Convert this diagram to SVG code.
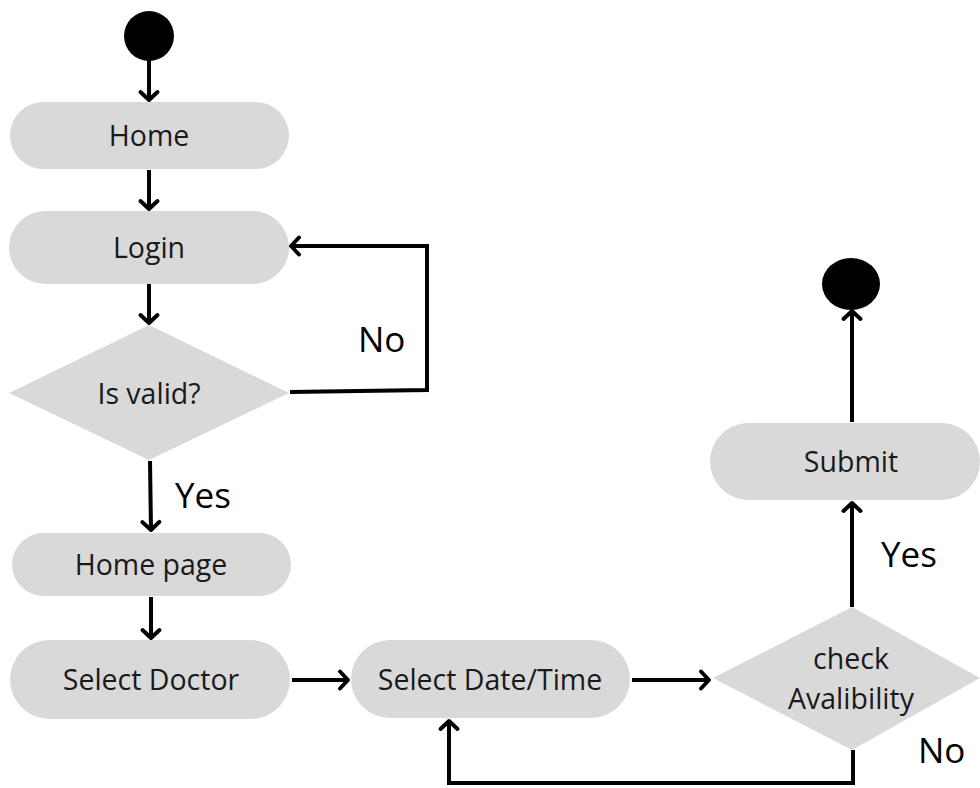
<svg xmlns="http://www.w3.org/2000/svg" width="980" height="788" viewBox="0 0 980 788">
<defs>
<style>
.box{fill:#d9d9d9}
.t{font-family:"Open Sans","Noto Sans",sans-serif;font-size:28.5px;fill:#1a1a1a;text-anchor:middle;dominant-baseline:central}
.lbl{font-family:"Open Sans","Noto Sans",sans-serif;font-size:35px;fill:#000;dominant-baseline:central}
.c{fill:none;stroke:#000;stroke-width:4;marker-end:url(#ah)}
</style>
<marker id="ah" viewBox="0 0 20 20" refX="11" refY="10" markerWidth="20" markerHeight="20" markerUnits="userSpaceOnUse" orient="auto" overflow="visible">
<path d="M3,1.5 L11,10 L3,18.5" fill="none" stroke="#000" stroke-width="4" stroke-linecap="round" stroke-linejoin="round"/>
</marker>
</defs>
<g id="connectors">
<line class="c" x1="149" y1="58" x2="149" y2="100"/>
<line class="c" x1="149" y1="170" x2="149" y2="209"/>
<line class="c" x1="149" y1="284" x2="149" y2="323"/>
<polyline class="c" points="290,392 427,390 427,246 291,246"/>
<line class="c" x1="150" y1="461" x2="151" y2="530"/>
<line class="c" x1="151" y1="597" x2="151" y2="638"/>
<line class="c" x1="292" y1="680" x2="348" y2="680"/>
<line class="c" x1="632" y1="680" x2="709" y2="680"/>
<polyline class="c" points="853,750 853,783 449,783 449,721"/>
<line class="c" x1="852" y1="607" x2="852" y2="503"/>
<line class="c" x1="852" y1="422" x2="852" y2="311"/>
</g>
<g id="start"><circle cx="149" cy="36" r="25" fill="#000"/></g>
<g id="home"><rect class="box" x="10" y="102" width="279" height="67" rx="33.5"/><text class="t" x="149" y="135">Home</text></g>
<g id="login"><rect class="box" x="9" y="211" width="280" height="73" rx="36.5"/><text class="t" x="149" y="247">Login</text></g>
<g id="isvalid"><polygon class="box" points="149,325 289,393 149,460 9,393"/><text class="t" x="149" y="393">Is valid?</text></g>
<g id="homepage"><rect class="box" x="12" y="533" width="279" height="63" rx="31.5"/><text class="t" x="151" y="564">Home page</text></g>
<g id="selectdoctor"><rect class="box" x="10" y="640" width="280" height="79" rx="39.5"/><text class="t" x="151" y="679">Select Doctor</text></g>
<g id="selectdate"><rect class="box" x="351" y="640" width="279" height="78" rx="39"/><text class="t" x="490" y="679">Select Date/Time</text></g>
<g id="check"><polygon class="box" points="852,607 980,678 852,750 713,678"/><text class="t" x="851" y="658">check</text><text class="t" x="851" y="698">Avalibility</text></g>
<g id="submit"><rect class="box" x="710" y="423" width="270" height="77" rx="38.5"/><text class="t" x="851" y="461">Submit</text></g>
<g id="end"><ellipse cx="851" cy="284" rx="29" ry="26" fill="#000"/></g>
<g id="labels">
<text class="lbl" x="358" y="338">No</text>
<text class="lbl" x="175" y="494">Yes</text>
<text class="lbl" x="881" y="553">Yes</text>
<text class="lbl" x="918" y="749">No</text>
</g>
</svg>
